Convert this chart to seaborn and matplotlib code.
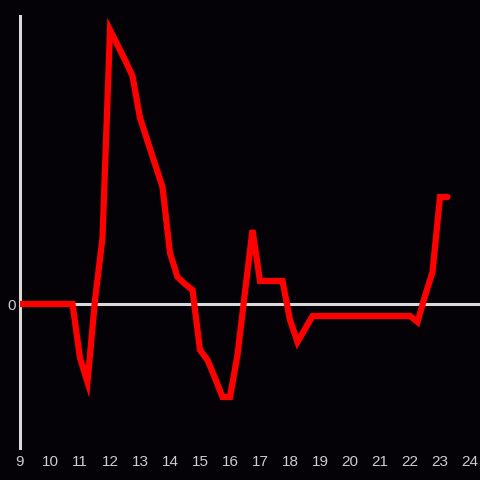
import numpy as np
import pandas as pd
import matplotlib
matplotlib.use("Agg")
import matplotlib.pyplot as plt
import seaborn as sns

# quarter-hour samples from 9:00 to 23:15
hours = [9 + 0.25 * i for i in range(58)]
values = [0, 0, 0, 0, 0, 0, 0, 0,
          -54, -78, 4, 66, 274, 259, 244, 228,
          186, 163, 140, 117, 51, 27, 20, 14,
          -46, -56, -74, -93, -93, -51, 12, 74,
          23, 23, 23, 23, -16, -38, -25, -12,
          -12, -12, -12, -12, -12, -12, -12, -12,
          -12, -12, -12, -12, -12, -18, 8, 32,
          107, 107]
xticks = list(range(9, 25))

bg = "#040206"
axis_col = "#d9d9d9"

sns.set_theme(style="white")
plt.rcParams["font.family"] = ["Liberation Sans", "DejaVu Sans"]

df = pd.DataFrame({"hour": hours, "value": values})

fig = plt.figure(figsize=(4.8, 4.8), dpi=100, facecolor=bg)
ax = fig.add_axes([20 / 480, 32 / 480, 460 / 480, 432 / 480])
ax.set_facecolor(bg)

ax.axhline(0, color=axis_col, lw=2.2, zorder=1)
sns.lineplot(data=df, x="hour", y="value", color="#ff0000", lw=4.5,
             ax=ax, zorder=3, solid_joinstyle="miter")

ax.set_xlim(9, 24 + 1 / 3)
ax.set_ylim(-144, 288)

for s in ["top", "right", "bottom"]:
    ax.spines[s].set_visible(False)
ax.spines["left"].set_color(axis_col)
ax.spines["left"].set_linewidth(2.2)

ax.set_xticks(xticks)
ax.set_xticklabels([str(t) for t in xticks])
ax.set_yticks([0])
ax.set_yticklabels(["0"])
ax.tick_params(axis="both", length=0, colors="#cccccc", labelsize=11)
ax.tick_params(axis="x", pad=5)
ax.tick_params(axis="y", pad=3)
ax.set_xlabel("")
ax.set_ylabel("")

fig.savefig("out.png", dpi=100, facecolor=bg)
